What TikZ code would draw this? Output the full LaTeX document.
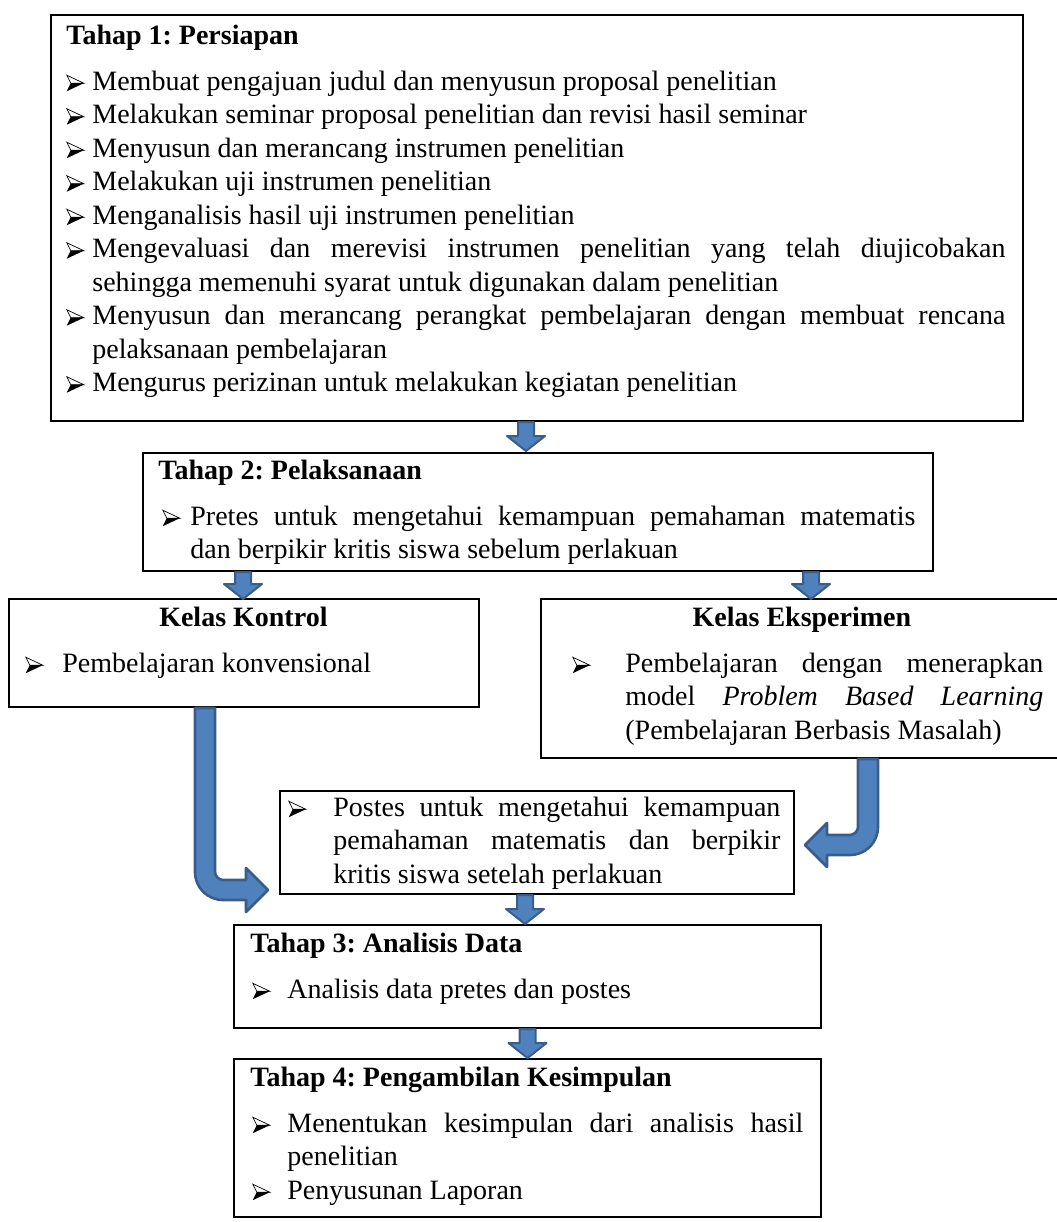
\documentclass[tikz,border=0pt]{standalone}
\usepackage{fontspec}
\setmainfont{Liberation Serif}
\usepackage{tikz}
\usetikzlibrary{calc}
\definecolor{pBiru}{HTML}{4F81BD}
\definecolor{pGaris}{HTML}{385D8A}
\hyphenpenalty=10000
\exhyphenpenalty=10000
\frenchspacing
\tikzset{
  kotak/.style={draw, line width=1pt, rectangle, anchor=north west, inner sep=0pt},
  isi/.style={anchor=base west, inner sep=0pt, align=justify,
              font=\fontsize{14}{16.75}\selectfont},
  blok/.style={fill=pBiru, draw=pGaris, line width=1pt, line join=round},
  blokbelok/.style={blok, line width=1.3pt},
}
% arrowhead bullet (upper half light, lower half dark)
\newcommand{\panah}{\tikz[x=1pt, y=1pt, baseline={(0,-3.4pt)}, line width=0.35pt, line join=miter]{%
  \filldraw[fill=white, draw=black] (2,0) -- (0,4) -- (8.5,0) -- cycle;
  \fill[black] (2,0) -- (0,-4) -- (8.5,0) -- cycle;}}
\newcommand{\judul}[1]{\textbf{#1}\par\vspace{6.25pt}}
\newcommand{\judultengah}[1]{{\centering\textbf{#1}\par}\vspace{6.25pt}}
\newcommand{\butir}[3][0pt]{%
  \ifvmode\noindent\fi
  \leftskip=#1\relax\hangindent=#2\relax\hangafter=1\relax
  \makebox[#2][l]{\panah}#3\par}
% straight block arrow: start point, length
\newcommand{\panahturun}[2]{%
  \draw[blok] (#1) ++(-8,0) -- ++(0,#2-15) -- ++(-11,0) -- ++(19,15)
    -- ++(19,-15) -- ++(-11,0) -- ++(0,-#2+15) -- cycle;}

\begin{document}
\begin{tikzpicture}[x=0.5pt, y=-0.5pt]
  \useasboundingbox (0,0) rectangle (1056,1222);

  % boxes
  \node[kotak, minimum width=486pt, minimum height=203pt] (t1) at (50,14) {};
  \node[kotak, minimum width=395pt, minimum height=59pt] (t2) at (142,452) {};
  \node[kotak, minimum width=235pt, minimum height=54pt] (kontrol) at (8,598) {};
  \node[kotak, minimum width=265pt, minimum height=79.5pt] (eks) at (540,598) {};
  \node[kotak, minimum width=257pt, minimum height=51.5pt] (postes) at (279,790) {};
  \node[kotak, minimum width=293.5pt, minimum height=51.5pt] (t3) at (233,924) {};
  \node[kotak, minimum width=293.5pt, minimum height=79pt] (t4) at (233,1058) {};

  % texts
  \node[isi, text width=469.5pt] (t1isi) at ($(t1.north west)+(16,30)$) {%
    \judul{Tahap 1: Persiapan}
    \butir{13pt}{Membuat pengajuan judul dan menyusun proposal penelitian}
    \butir{13pt}{Melakukan seminar proposal penelitian dan revisi hasil seminar}
    \butir{13pt}{Menyusun dan merancang instrumen penelitian}
    \butir{13pt}{Melakukan uji instrumen penelitian}
    \butir{13pt}{Menganalisis hasil uji instrumen penelitian}
    \butir{13pt}{Mengevaluasi dan merevisi instrumen penelitian yang telah diujicobakan\linebreak
      sehingga memenuhi syarat untuk digunakan dalam penelitian}
    \butir{13pt}{Menyusun dan merancang perangkat pembelajaran dengan membuat rencana\linebreak
      pelaksanaan pembelajaran}
    \butir{13pt}{Mengurus perizinan untuk melakukan kegiatan penelitian}};
  \node[isi, text width=378.5pt] (t2isi) at ($(t2.north west)+(16,27)$) {%
    \judul{Tahap 2: Pelaksanaan}
    \butir[2pt]{14pt}{Pretes untuk mengetahui kemampuan pemahaman matematis\linebreak
      dan berpikir kritis siswa sebelum perlakuan}};
  \node[isi, text width=223pt] (kontrolisi) at ($(kontrol.north west)+(12,28)$) {%
    \judultengah{Kelas Kontrol}
    \butir[2.5pt]{18.5pt}{Pembelajaran konvensional}};
  \node[isi, text width=241.5pt] (eksisi) at ($(eks.north west)+(20,28)$) {%
    \judultengah{Kelas Eksperimen}
    \butir[6pt]{26.5pt}{Pembelajaran dengan menerapkan\linebreak
      model \textit{Problem Based Learning}\linebreak
      (Pembelajaran Berbasis Masalah)}};
  \node[isi, text width=246pt] (postesisi) at ($(postes.north west)+(9,26)$) {%
    \butir{22.5pt}{Postes untuk mengetahui kemampuan\linebreak
      pemahaman matematis dan berpikir\linebreak
      kritis siswa setelah perlakuan}};
  \node[isi, text width=276.5pt] (t3isi) at ($(t3.north west)+(17,28)$) {%
    \judul{Tahap 3: Analisis Data}
    \butir[1pt]{17.5pt}{Analisis data pretes dan postes}};
  \node[isi, text width=276.5pt] (t4isi) at ($(t4.north west)+(17,28)$) {%
    \judul{Tahap 4: Pengambilan Kesimpulan}
    \butir[1pt]{17.5pt}{Menentukan kesimpulan dari analisis hasil\linebreak penelitian}
    \butir[1pt]{17.5pt}{Penyusunan Laporan}};

  % straight arrows
  \coordinate (p1) at ($(t1.south)+(-11,0)$);
  \coordinate (p2) at ($(t2.south west)+(101,0)$);
  \coordinate (p3) at ($(t2.south west)+(669,0)$);
  \coordinate (p4) at ($(postes.south west)+(246,0)$);
  \coordinate (p5) at (t3.south);
  \panahturun{p1}{29}
  \panahturun{p2}{27}
  \panahturun{p3}{27}
  \panahturun{p4}{29}
  \panahturun{p5}{29}

  % bent arrows into Postes
  \coordinate (kb) at ($(kontrol.south west)+(187,0)$);
  \coordinate (eb) at ($(eks.south west)+(338,0)$);
  \draw[blokbelok] (kb) -- ++(0,164) .. controls +(0,15.5) and +(-15.5,0) .. ++(28,28)
    -- ++(23,0) -- ++(0,12) -- ++(22,-22) -- ++(-22,-22) -- ++(0,12) -- ++(-23,0)
    .. controls +(-4.4,0) and +(0,3.6) .. ++(-8,-8) -- ++(0,-164) -- cycle;
  \draw[blokbelok] (eb) -- ++(0,68) .. controls +(0,15.5) and +(15.5,0) .. ++(-28,28)
    -- ++(-23,0) -- ++(0,12) -- ++(-22,-22) -- ++(22,-22) -- ++(0,12) -- ++(23,0)
    .. controls +(4.4,0) and +(0,3.6) .. ++(8,-8) -- ++(0,-68) -- cycle;
\end{tikzpicture}
\end{document}
